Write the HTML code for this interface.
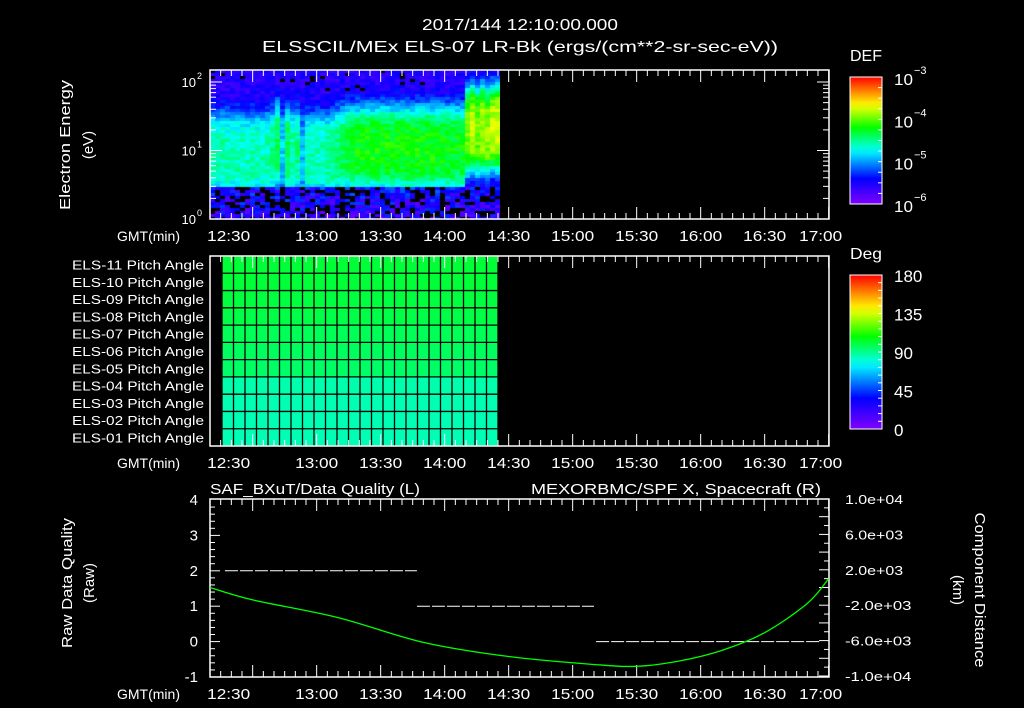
<!DOCTYPE html>
<html><head><meta charset="utf-8"><style>
html,body{margin:0;padding:0;background:#000;width:1024px;height:708px;overflow:hidden}
svg text{font-family:"Liberation Sans",sans-serif;fill:#fff}
#spec{position:absolute;left:210px;top:70px}
</style></head><body>
<canvas id="spec" width="290" height="150"></canvas>
<svg id="s" width="1024" height="708" style="position:absolute;left:0;top:0"></svg>
<script>
// ---- data ----
const timeLabels=["12:30","13:00","13:30","14:00","14:30","15:00","15:30","16:00","16:30","17:00"];
const specPeak=[0.47,0.47,0.48,0.47,0.47,0.48,0.47,0.47,0.48,0.47,0.47,0.48,0.5,0.54,0.38,0.54,0.48,0.5,0.36,0.47,0.47,0.47,0.47,0.48,0.5,0.52,0.54,0.56,0.58,0.59,0.6,0.6,0.6,0.6,0.6,0.6,0.6,0.6,0.6,0.6,0.6,0.6,0.6,0.6,0.6,0.59,0.59,0.59,0.59,0.59,0.59,0.68,0.72,0.68,0.72,0.7,0.73,0.75];
const specCenter=[0.95,0.95,0.95,0.95,0.95,0.95,0.95,0.95,0.95,0.95,0.95,0.95,1.0,1.1,1.0,1.0,1.0,1.0,0.95,0.95,0.95,0.95,0.95,0.95,0.97,1.0,1.02,1.05,1.05,1.05,1.05,1.05,1.05,1.05,1.05,1.05,1.05,1.05,1.05,1.05,1.05,1.05,1.05,1.05,1.05,1.05,1.05,1.05,1.05,1.05,1.05,1.3,1.35,1.3,1.35,1.3,1.35,1.35];
const pitchRows=["ELS-11","ELS-10","ELS-09","ELS-08","ELS-07","ELS-06","ELS-05","ELS-04","ELS-03","ELS-02","ELS-01"];
const pitchDeg=[101,101,100,99,97,96,95,86,85,85,85];
const qualStart=[7,97,181];
const qualEnd=[97,180,286];
const qualVal=[2,1,0];
const posTimes=[0,20,60,100,140,180,200,220,240,260,280,290];
const posVals=[0,-1.4,-3.4,-6.2,-7.8,-8.7,-8.9,-8.3,-7.1,-5.1,-1.8,1.0];
// ---- scales ----
const X=m=>210+m*64/30; // minutes since 12:10
const yQ=v=>641.6-v*35.4;
const yP=v=>587.5-v*8.85; // thousands km
function cmap(v){v=Math.max(0,Math.min(1,v));const st=[[0,128,0,255],[0.2,0,0,255],[0.42,0,255,255],[0.6,0,255,0],[0.78,255,255,0],[1,255,0,0]];
for(let i=1;i<st.length;i++){if(v<=st[i][0]){const a=st[i-1],b=st[i],t=(v-a[0])/(b[0]-a[0]);return `rgb(${Math.round(a[1]+t*(b[1]-a[1]))},${Math.round(a[2]+t*(b[2]-a[2]))},${Math.round(a[3]+t*(b[3]-a[3]))})`;}}return 'rgb(255,0,0)';}
function h(a,b){let x=Math.sin(a*12.9898+b*78.233)*43758.5453;return x-Math.floor(x);}
// spectrogram
const cv=document.getElementById('spec').getContext('2d');
for(let i=0;i<specPeak.length;i++){for(let r=0;r<50;r++){const y=r*3;const le=(149-y)/68.5;
let d=(le-specCenter[i])/0.55;let v=0.14+(specPeak[i]-0.14)*Math.exp(-d*d*d*d/2);
v+= (h(i,r)-0.5)*0.1;
let black=false;if(le<0.5){v=0.03+h(r,i)*0.2+le*0.12;if(h(i*3,r*7)<0.3)black=true;}
else if(le>1.9 && h(i*5,r)<0.05)black=true;
cv.fillStyle=black?'#000':cmap(v);cv.fillRect(i*5,y,5,3);}}
// svg
const S=document.getElementById('s');const NS='http://www.w3.org/2000/svg';
function el(t,a,txt){const e=document.createElementNS(NS,t);for(const k in a)e.setAttribute(k,a[k]);if(txt!==undefined)e.textContent=txt;S.appendChild(e);return e;}
function line(x1,y1,x2,y2,c,w){return el('line',{x1,y1,x2,y2,stroke:c||'#fff','stroke-width':w||1});}
function txt(x,y,s,o){o=o||{};const e=el('text',{x,y,'font-size':o.fs||15,'text-anchor':o.a||'middle',fill:o.fill||'#fff'},s);if(o.tl){e.setAttribute('textLength',o.tl);e.setAttribute('lengthAdjust','spacingAndGlyphs');}if(o.rot)e.setAttribute('transform',`rotate(-90 ${x} ${y})`);return e;}
let t=txt(520,30,"2017/144 12:10:00.000",{fs:16,tl:196});
t=txt(520,52,"ELSSCIL/MEx ELS-07 LR-Bk  (ergs/(cm**2-sr-sec-eV))",{fs:16,tl:516});
function panel(top,bot,name){const r=el('rect',{x:210,y:top,width:619,height:bot-top,fill:'none',stroke:'#fff','stroke-width':1.5});

for(let m=0;m<=290;m+=5){const L=(m+10)%30==0?12:6;const x=X(m);line(x,bot,x,bot-L);line(x,top,x,top+L);}
timeLabels.forEach((s,i)=>{const e=txt(X(20+30*i)-(i==0?24:i==9?8:0),bot+22,s,{fs:15,tl:43});});
const g=txt(180,bot+22,"GMT(min)",{fs:14,a:'end',tl:63});}
// top panel
panel(70,219,'energy-panel');
for(let d=0;d<3;d++)for(let k=1;k<10;k++){const y=219-(d+Math.log10(k))*68.5;if(y<70)continue;const L=k==1?12:6;line(210,y,210+L,y);line(829,y,829-L,y);}
[0,1,2].forEach(d=>{const y=219-d*68.5;const e=txt(196,y+5,"10",{fs:13,a:'end'});el('text',{x:197,y:y-3,'font-size':9},String(d));});
t=txt(70,145,"Electron Energy",{fs:15,rot:1,tl:130});
t=txt(93,145,"(eV)",{fs:15,rot:1});
// colorbars
const defs=el('defs',{});const lg=document.createElementNS(NS,'linearGradient');lg.setAttribute('id','cg');lg.setAttribute('x1',0);lg.setAttribute('y1',1);lg.setAttribute('x2',0);lg.setAttribute('y2',0);defs.appendChild(lg);
for(let i=0;i<=20;i++){const s=document.createElementNS(NS,'stop');s.setAttribute('offset',i/20);s.setAttribute('stop-color',cmap(i/20));lg.appendChild(s);}
function cbar(top,bot,name){const r=el('rect',{x:850,y:top,width:32,height:bot-top,fill:'url(#cg)',stroke:'#fff','stroke-width':1});}
cbar(77,204,'def-colorbar');
for(let i=0;i<=12;i++){const y=77+i*127/12;line(882,y,878,y);}
t=txt(866,61,"DEF",{fs:16,tl:32});
[-3,-4,-5,-6].forEach((p,i)=>{const y=77+i*127/3;txt(894,y+8,"10",{fs:16,a:'start',tl:19});txt(914,y-3,"−"+(-p),{fs:11,a:'start'});});
cbar(275,429,'deg-colorbar');
for(let i=0;i<=20;i++){const y=275+i*154/20;line(882,y,878,y);}
t=txt(866,259,"Deg",{fs:16,tl:32});
["180","135","90","45","0"].forEach((s,i)=>txt(894,275+i*38.5+7,s,{fs:17,a:'start'}));
// middle panel
const mt=256,mb=446,rh=(mb-mt)/11,gx1=222,gx2=498;
pitchRows.forEach((nm,i)=>{const y=mt+i*rh;const r=el('rect',{x:gx1,y:y,width:gx2-gx1,height:rh,fill:cmap(pitchDeg[i]/180)});

const e=txt(204,y+rh/2+5,nm+" Pitch Angle",{fs:13,a:'end',tl:132});});
for(let k=0;k<=24;k++){const x=gx1+k*(gx2-gx1)/24;line(x,mt,x,mb,'#000',1.3);}
for(let i=0;i<=11;i++)line(gx1,mt+i*rh,gx2,mt+i*rh,'#000',1.3);
panel(mt,mb,'pitch-panel');
// bottom panel
panel(499,677,'quality-panel');
for(let v=-1;v<=4;v+=0.2){const y=yQ(v);const L=Math.abs(v-Math.round(v))<0.01?10:5;line(210,y,210+L,y);}
for(let v=-10;v<=10;v+=1){const y=yP(v);const L=(v%2==0)?10:5;line(829,y,829-L,y);}
[4,3,2,1,0,-1].forEach(v=>{const e=txt(198,yQ(v)+5,String(v),{fs:15,a:'end'});});
[["1.0e+04",10],["6.0e+03",6],["2.0e+03",2],["-2.0e+03",-2],["-6.0e+03",-6],["-1.0e+04",-10]].forEach(([s,v])=>txt(845,yP(v)+5,s,{fs:13,a:'start',tl:s.length*8.3}));
t=txt(210,494,"SAF_BXuT/Data Quality (L)",{fs:15,a:'start',tl:210});
t=txt(821,494,"MEXORBMC/SPF X, Spacecraft (R)",{fs:15,a:'end',fill:'#00ff00',tl:290});
t=txt(72,583,"Raw Data Quality",{fs:15,rot:1,tl:130});txt(94,583,"(Raw)",{fs:15,rot:1});
t=txt(975,590,"Component Distance",{fs:15,tl:155});t.setAttribute('transform','rotate(90 975 590)');
t=txt(953,590,"(km)",{fs:15});t.setAttribute('transform','rotate(90 953 590)');
qualVal.forEach((v,i)=>{const e=el('line',{x1:X(qualStart[i]),y1:yQ(v),x2:X(qualEnd[i]),y2:yQ(v),stroke:'#fff','stroke-width':1,'stroke-dasharray':'13 2'});
});
// smooth curve through points (Catmull-Rom)
const P=posTimes.map((m,i)=>[X(m),yP(posVals[i])]);
let dstr=`M${P[0][0]},${P[0][1]}`;
for(let i=0;i<P.length-1;i++){const p0=P[Math.max(0,i-1)],p1=P[i],p2=P[i+1],p3=P[Math.min(P.length-1,i+2)];
dstr+=` C${p1[0]+(p2[0]-p0[0])/6},${p1[1]+(p2[1]-p0[1])/6} ${p2[0]-(p3[0]-p1[0])/6},${p2[1]-(p3[1]-p1[1])/6} ${p2[0]},${p2[1]}`;}
const pl=el('path',{d:dstr,fill:'none',stroke:'#00ff00','stroke-width':1.3});

</script></body></html>
